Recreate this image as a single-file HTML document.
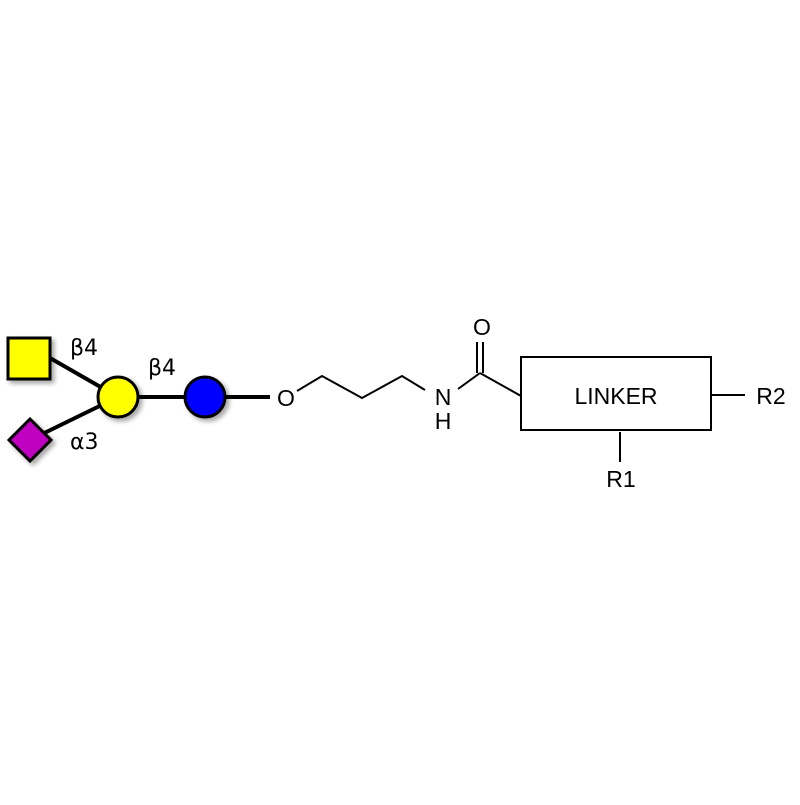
<!DOCTYPE html>
<html><head><style>body{margin:0;background:#fff}</style></head><body>
<svg width="800" height="800" xmlns="http://www.w3.org/2000/svg">
<defs><filter id="sh" x="-50%" y="-50%" width="200%" height="200%"><feDropShadow dx="3" dy="3" stdDeviation="2.5" flood-color="#000" flood-opacity="0.35"/></filter></defs>
<g stroke="#000" stroke-width="4" fill="none">
<line x1="50" y1="358" x2="118" y2="397"/>
<line x1="30" y1="440" x2="118" y2="397"/>
<line x1="118" y1="397" x2="205" y2="397"/>
<line x1="205" y1="397" x2="270" y2="397"/>
</g>
<rect x="8" y="338" width="42" height="41" fill="#ffff00" stroke="#000" stroke-width="3" filter="url(#sh)"/>
<polygon points="30,419 51,440 30,461 9,440" fill="#c000c0" stroke="#000" stroke-width="3" filter="url(#sh)"/>
<circle cx="118" cy="397" r="20" fill="#ffff00" stroke="#000" stroke-width="3" filter="url(#sh)"/>
<circle cx="205" cy="397" r="20" fill="#0000ff" stroke="#000" stroke-width="3" filter="url(#sh)"/>
<g font-family="DejaVu Sans, sans-serif" font-size="22" fill="#000">
<text x="70" y="355">β4</text>
<text x="148" y="375">β4</text>
<text x="70" y="449">α3</text>
</g>
<g stroke="#000" stroke-width="2" fill="none">
<polyline points="297,391 322,376 362,398 402,376 425,390"/>
<line x1="458" y1="389" x2="480" y2="373"/>
<line x1="480" y1="373" x2="521" y2="396"/>
<line x1="477" y1="342" x2="477" y2="373"/>
<line x1="483" y1="342" x2="483" y2="373"/>
<rect x="521" y="357" width="190" height="73"/>
<line x1="711" y1="395" x2="745" y2="395"/>
<line x1="620" y1="432" x2="620" y2="462"/>
</g>
<g font-family="Liberation Sans, sans-serif" font-size="23" fill="#000" text-anchor="middle">
<text x="286" y="406">O</text>
<text x="443" y="405">N</text>
<text x="443" y="429">H</text>
<text x="482" y="335">O</text>
<text x="616" y="404">LINKER</text>
<text x="771" y="404">R2</text>
<text x="621" y="487">R1</text>
</g>
</svg>
</body></html>
